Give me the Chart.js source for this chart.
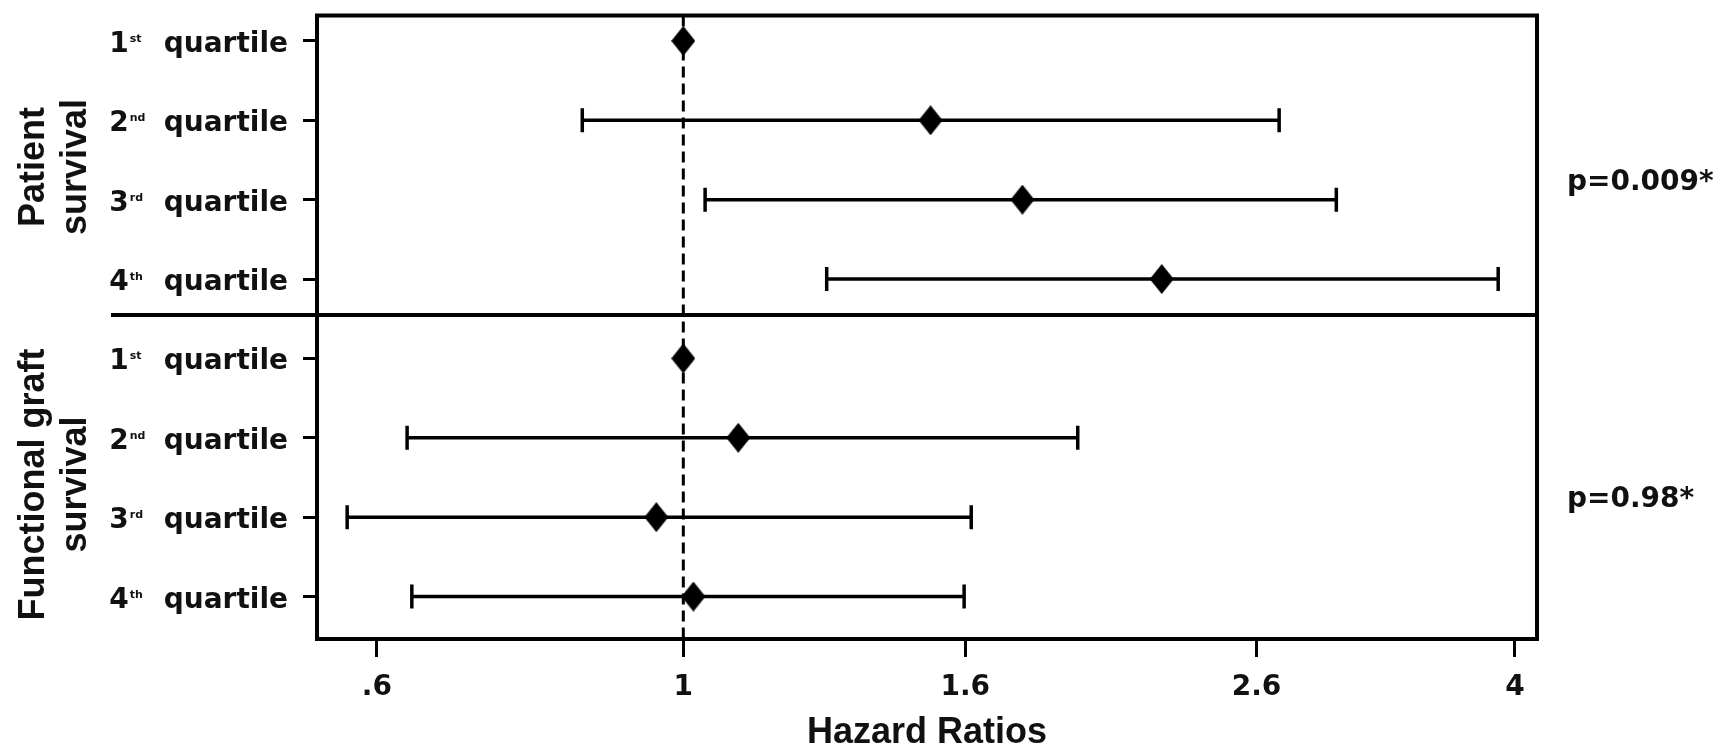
<!DOCTYPE html>
<html><head><meta charset="utf-8">
<script src="https://cdn.jsdelivr.net/npm/chart.js@4.4.1/dist/chart.umd.min.js"></script>
<style>html,body{margin:0;padding:0;background:#fff;} #wrap{width:1717px;height:748px;position:relative;}</style>
</head><body><div id="wrap"><canvas id="c"></canvas></div>
<script>
// ---- data ----
const groupLabels = [['Patient', 'survival'], ['Functional graft', 'survival']];
const quartileNumbers = ['1', '2', '3', '4'];
const quartileSuffixes = ['st', 'nd', 'rd', 'th'];
const quartileWord = 'quartile';
const pValues = ['p=0.009*', 'p=0.98*'];

const patientHR   = [1.00, 1.51, 1.76, 2.22];
const patientLow  = [null, 0.845, 1.037, 1.27];
const patientHigh = [null, 2.70, 2.97, 3.89];
const graftHR     = [1.00, 1.096, 0.956, 1.017];
const graftLow    = [null, 0.631, 0.571, 0.636];
const graftHigh   = [null, 1.93, 1.616, 1.597];

const xTickValues = [0.6, 1, 1.6, 2.6, 4];
const xTickLabels = ['.6', '1', '1.6', '2.6', '4'];
const xAxisTitle = 'Hazard Ratios';
const referenceHR = 1;

// ---- layout constants ----
const xMin = 0.543, xMax = 4.15;
const yMin = -0.32, yMax = 7.535;
const groupDivider = 3.45;

const hrAll = patientHR.concat(graftHR);
const lowAll = patientLow.concat(graftLow);
const highAll = patientHigh.concat(graftHigh);
const rows = hrAll.map((_, i) => i);

// diamond marker
const diamond = document.createElement('canvas');
diamond.width = 24; diamond.height = 30;
(function () {
  const dc = diamond.getContext('2d');
  dc.fillStyle = '#000';
  dc.beginPath(); dc.moveTo(12, 0); dc.lineTo(24, 15); dc.lineTo(12, 30); dc.lineTo(0, 15); dc.closePath(); dc.fill();
})();

const datasets = [];
datasets.push({
  data: hrAll.map((v, i) => ({ x: v, y: i })),
  pointStyle: diamond, pointRadius: 12, showLine: false, order: 0
});
rows.forEach(i => {
  if (lowAll[i] == null) return;
  datasets.push({
    data: [{ x: lowAll[i], y: i }, { x: highAll[i], y: i }],
    showLine: true, borderColor: '#000', borderWidth: 3.5,
    pointStyle: 'line', pointRotation: 90, pointRadius: 12,
    pointBorderWidth: 3.5, pointBorderColor: '#000', order: 1
  });
});
datasets.push({
  data: [{ x: referenceHR, y: yMin }, { x: referenceHR, y: yMax }],
  showLine: true, borderColor: '#000', borderWidth: 3, borderDash: [11, 6],
  pointRadius: 0, order: 2
});

const labelFont = "bold 28px 'DejaVu Sans'";
const supFont = "bold 11px 'DejaVu Sans'";
const groupFont = "bold 36px 'Liberation Sans'";

const decor = {
  id: 'decor',
  afterDraw(chart) {
    const { ctx, chartArea: a, scales: { y } } = chart;
    ctx.save();
    ctx.strokeStyle = '#000';
    ctx.lineWidth = 4;
    ctx.strokeRect(a.left, a.top, a.right - a.left, a.bottom - a.top);
    // divider between groups
    const dy = Math.round(y.getPixelForValue(groupDivider));
    ctx.beginPath(); ctx.moveTo(111, dy); ctx.lineTo(a.right, dy); ctx.stroke();

    ctx.fillStyle = '#111';
    // row labels
    const labelRight = a.left - 29;
    rows.forEach(i => {
      const py = y.getPixelForValue(i);
      const q = i % 4;
      ctx.font = labelFont;
      ctx.textAlign = 'right'; ctx.textBaseline = 'alphabetic';
      ctx.fillText(quartileWord, labelRight, py + 11);
      const xq = labelRight - ctx.measureText(quartileWord).width;
      const numRight = xq - 35;
      ctx.fillText(quartileNumbers[q], numRight, py + 11);
      ctx.font = supFont; ctx.textAlign = 'left';
      ctx.fillText(quartileSuffixes[q], numRight + 1, py + 1);
    });
    // group labels and p values
    groupLabels.forEach((lines, g) => {
      const cy = y.getPixelForValue(g * 4 + 1.5);
      ctx.font = groupFont; ctx.textAlign = 'center'; ctx.textBaseline = 'alphabetic';
      lines.forEach((t, k) => {
        ctx.save();
        ctx.translate(44 + k * 42, cy + 7);
        ctx.rotate(-Math.PI / 2);
        ctx.fillText(t, 0, 0);
        ctx.restore();
      });
      ctx.font = labelFont; ctx.textAlign = 'left';
      ctx.fillText(pValues[g], a.right + 30, cy + 30);
    });
    ctx.restore();
  }
};

new Chart(document.getElementById('c'), {
  type: 'scatter',
  data: { datasets },
  options: {
    responsive: true, maintainAspectRatio: false, animation: false,
    devicePixelRatio: 1,
    layout: { padding: { top: 13, right: 180, left: 0, bottom: 0 } },
    plugins: { legend: { display: false }, tooltip: { enabled: false } },
    scales: {
      x: {
        type: 'logarithmic', min: xMin, max: xMax,
        afterBuildTicks: s => { s.ticks = xTickValues.map(v => ({ value: v })); },
        afterFit: s => { s.height = 109; },
        ticks: {
          callback: (v) => xTickLabels[xTickValues.indexOf(v)],
          font: { family: 'DejaVu Sans', size: 28, weight: 'bold', lineHeight: 1.2 },
          color: '#111', padding: 14, maxRotation: 0, autoSkip: false
        },
        grid: { display: true, drawOnChartArea: false, drawTicks: true, tickLength: 18, tickWidth: 3, tickColor: '#000' },
        border: { display: true, color: '#000', width: 4 },
        title: {
          display: true, text: xAxisTitle, color: '#111',
          font: { family: 'Liberation Sans', size: 36, weight: 'bold', lineHeight: 0.85 },
          padding: { top: 0, bottom: 0 }
        }
      },
      y: {
        type: 'linear', reverse: true, min: yMin, max: yMax,
        afterBuildTicks: s => { s.ticks = rows.map(v => ({ value: v })); },
        afterFit: s => { s.width = 317; },
        ticks: { display: false },
        grid: { display: true, drawOnChartArea: false, drawTicks: true, tickLength: 14, tickWidth: 3, tickColor: '#000' },
        border: { display: true, color: '#000', width: 4 }
      }
    }
  },
  plugins: [decor]
});
</script>
</body></html>
